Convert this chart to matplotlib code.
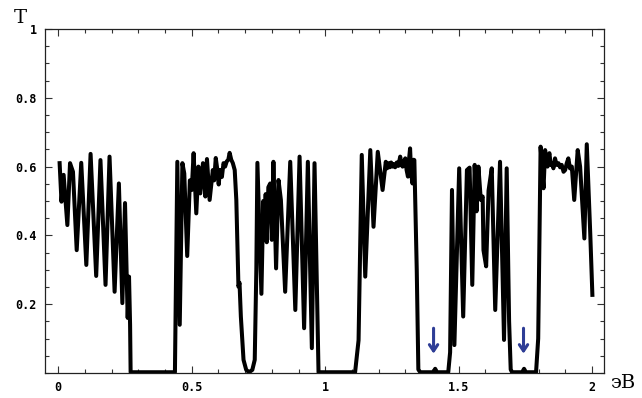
import matplotlib
matplotlib.use('Agg')
import matplotlib.pyplot as plt
from matplotlib.ticker import MultipleLocator

# Энергия (эВ) и коэффициент прохождения T
energia = [
    0.005, 0.012, 0.020, 0.034, 0.044, 0.055, 0.069, 0.086, 0.105, 0.121,
    0.142, 0.158, 0.177, 0.192, 0.211, 0.227, 0.240, 0.250, 0.260, 0.265,
    0.269, 0.271,
    0.437, 0.446, 0.455, 0.465, 0.472, 0.483, 0.493, 0.500, 0.507, 0.517,
    0.525, 0.532, 0.542, 0.551, 0.557, 0.567, 0.579, 0.584, 0.590, 0.596,
    0.601, 0.606, 0.613, 0.619, 0.625, 0.631, 0.637, 0.642, 0.648, 0.654,
    0.661, 0.667, 0.675, 0.679, 0.684, 0.694, 0.704,
    0.715, 0.727, 0.736, 0.742, 0.746, 0.761, 0.768, 0.773, 0.777, 0.781,
    0.787, 0.794, 0.800, 0.806, 0.816, 0.825, 0.834, 0.850, 0.869, 0.888,
    0.904, 0.921, 0.935, 0.950, 0.960, 0.975,
    1.112, 1.125, 1.137, 1.150, 1.169, 1.181, 1.197, 1.215, 1.227, 1.232,
    1.237, 1.242, 1.247, 1.252, 1.256, 1.262, 1.268, 1.274, 1.281, 1.286,
    1.290, 1.295, 1.300, 1.305, 1.310, 1.314, 1.318, 1.322, 1.327, 1.331,
    1.334, 1.343, 1.349, 1.356, 1.405, 1.412, 1.419,
    1.461, 1.468, 1.475, 1.484, 1.502, 1.517, 1.531, 1.541, 1.551, 1.560,
    1.567, 1.574, 1.583, 1.590, 1.593, 1.603, 1.612, 1.624, 1.637, 1.655,
    1.670, 1.680, 1.689, 1.695, 1.700, 1.738, 1.745, 1.752,
    1.790, 1.798, 1.807, 1.812, 1.818, 1.824, 1.829, 1.833, 1.837, 1.840,
    1.845, 1.849, 1.855, 1.861, 1.867, 1.874, 1.880, 1.886, 1.893, 1.899,
    1.905, 1.911, 1.917, 1.924, 1.933, 1.946, 1.955, 1.971, 1.980, 1.993,
    2.001,
]
T = [
    0.610, 0.498, 0.576, 0.430, 0.610, 0.585, 0.357, 0.611, 0.314, 0.637,
    0.282, 0.619, 0.256, 0.629, 0.236, 0.551, 0.203, 0.494, 0.160, 0.280,
    0.140, 0.002,
    0.002, 0.614, 0.140, 0.610, 0.580, 0.340, 0.560, 0.532, 0.639, 0.464,
    0.600, 0.522, 0.610, 0.513, 0.622, 0.503, 0.590, 0.560, 0.625, 0.590,
    0.548, 0.590, 0.570, 0.610, 0.600, 0.615, 0.620, 0.640, 0.620, 0.610,
    0.590, 0.503, 0.251, 0.262, 0.164, 0.038, 0.009,
    0.002, 0.009, 0.038, 0.300, 0.611, 0.230, 0.500, 0.430, 0.520, 0.380,
    0.540, 0.551, 0.387, 0.614, 0.304, 0.561, 0.503, 0.236, 0.614, 0.183,
    0.629, 0.130, 0.614, 0.072, 0.610, 0.002,
    0.002, 0.095, 0.634, 0.280, 0.648, 0.425, 0.643, 0.532, 0.614, 0.595,
    0.610, 0.598, 0.612, 0.600, 0.607, 0.598, 0.612, 0.602, 0.629, 0.605,
    0.600, 0.615, 0.624, 0.590, 0.571, 0.620, 0.653, 0.580, 0.551, 0.620,
    0.619, 0.300, 0.010, 0.002, 0.002, 0.012, 0.002,
    0.002, 0.060, 0.532, 0.081, 0.595, 0.164, 0.590, 0.597, 0.256, 0.605,
    0.470, 0.600, 0.503, 0.513, 0.357, 0.310, 0.530, 0.595, 0.183, 0.614,
    0.096, 0.595, 0.150, 0.010, 0.002, 0.002, 0.012, 0.002,
    0.002, 0.100, 0.658, 0.600, 0.537, 0.648, 0.610, 0.600, 0.630, 0.639,
    0.605, 0.610, 0.595, 0.624, 0.605, 0.610, 0.598, 0.605, 0.585, 0.590,
    0.610, 0.624, 0.595, 0.600, 0.503, 0.648, 0.600, 0.391, 0.665, 0.406,
    0.227,
]

# Стрелки над узкими резонансами
strelki_x = [1.406, 1.743]

fig = plt.figure(figsize=(6.42, 3.98), dpi=100)
ax = fig.add_axes([0.070, 0.063, 0.871, 0.864])

ax.plot(energia, T, color='black', linewidth=2.9, solid_joinstyle='round')

for xs in strelki_x:
    ax.annotate('', xy=(xs, 0.048), xytext=(xs, 0.138),
                arrowprops=dict(arrowstyle='->,head_length=0.45,head_width=0.3',
                                color='#2e3d96', lw=2.2))

ax.set_xlim(-0.05, 2.045)
ax.set_ylim(0, 1)

ax.set_xticks([0, 0.5, 1, 1.5, 2])
ax.set_xticklabels(['0', '0.5', '1', '1.5', '2'])
ax.set_yticks([0.2, 0.4, 0.6, 0.8, 1.0])
ax.set_yticklabels(['0.2', '0.4', '0.6', '0.8', '1'])
ax.xaxis.set_minor_locator(MultipleLocator(0.1))
ax.yaxis.set_minor_locator(MultipleLocator(0.05))

ax.tick_params(which='both', direction='in', top=True, right=True,
               width=0.8, color='#333333')
ax.tick_params(which='major', length=5, pad=6)
ax.tick_params(which='minor', length=3)

for lab in ax.get_xticklabels() + ax.get_yticklabels():
    lab.set_family('DejaVu Sans Mono')
    lab.set_fontweight('bold')
    lab.set_fontsize(8.5)

for s in ax.spines.values():
    s.set_linewidth(0.9)
    s.set_color('#222222')

fig.text(14 / 642, 1 - 18 / 398, 'T', family='DejaVu Serif', fontsize=14,
         ha='left', va='center')
fig.text(610 / 642, 1 - 383 / 398, 'эВ', family='DejaVu Serif', fontsize=14,
         ha='left', va='center')

plt.savefig('out.png', dpi=100)
